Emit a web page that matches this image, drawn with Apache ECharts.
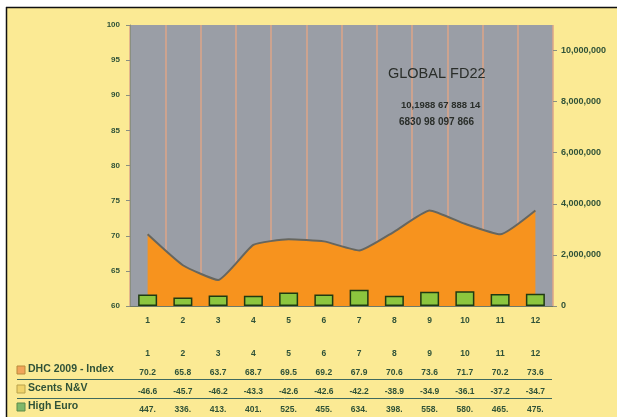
<!DOCTYPE html>
<html>
<head>
<meta charset="utf-8">
<script src="https://cdn.jsdelivr.net/npm/echarts@6/dist/echarts.min.js"></script>
<style>
  html, body { margin: 0; padding: 0; }
  #chart { width: 617px; height: 417px; }
</style>
</head>
<body>
<div id="chart"></div>
<script>
// 数据
var months = ['1', '2', '3', '4', '5', '6', '7', '8', '9', '10', '11', '12'];
var dhcIndex = [70.2, 65.8, 63.7, 68.7, 69.5, 69.2, 67.9, 70.6, 73.6, 71.7, 70.2, 73.6];
var scentsNV = ['-46.6', '-45.7', '-46.2', '-43.3', '-42.6', '-42.6', '-42.2', '-38.9', '-34.9', '-36.1', '-37.2', '-34.7'];
var highEuro = [447, 336, 413, 401, 525, 455, 634, 398, 558, 580, 465, 475];
var leftTicks = [60, 100, 5];
var rightTicks = [0, 11000000, 2000000];

var ink = '#2f5238';

function drawChart(ElementId) {
    var myChart = echarts.init(document.getElementById(ElementId));

    function tableAxis(offset, formatter) {
        return {
            type: 'category',
            gridIndex: 0,
            position: 'bottom',
            offset: offset,
            data: months,
            axisLine: { show: false },
            axisTick: { show: false },
            splitLine: { show: false },
            axisLabel: {
                color: ink,
                fontSize: 8.5,
                fontWeight: 'bold',
                fontFamily: 'Liberation Sans',
                formatter: formatter
            }
        };
    }

    var option = {
        backgroundColor: '#fbea94',
        animation: false,
        grid: {
            left: 130, right: 64, top: 25, bottom: 111,
            show: true,
            backgroundColor: '#9a9ea6',
            borderWidth: 0
        },
        xAxis: [
            {
                type: 'category',
                data: months,
                axisLine: { show: true, lineStyle: { color: '#6d7a6a', width: 1 } },
                axisTick: { show: false },
                splitLine: { show: true, lineStyle: { color: '#dca487', width: 1.5 } },
                axisLabel: { color: ink, fontSize: 8.5, fontWeight: 'bold', fontFamily: 'Liberation Sans', margin: 10 }
            },
            tableAxis(35, function (v) { return v; }),
            tableAxis(54, function (v, i) { return dhcIndex[i].toFixed(1); }),
            tableAxis(73, function (v, i) { return scentsNV[i]; }),
            tableAxis(91, function (v, i) { return highEuro[i] + '.'; })
        ],
        yAxis: [
            {
                type: 'value',
                min: leftTicks[0], max: leftTicks[1], interval: leftTicks[2],
                axisLine: { show: true, lineStyle: { color: '#8a8f80' } },
                axisTick: { show: true, length: 4, lineStyle: { color: '#8a8f80' } },
                splitLine: { show: false },
                axisLabel: {
                    color: ink, fontSize: 8, fontWeight: 'bold', fontFamily: 'Liberation Sans', margin: 10
                }
            },
            {
                type: 'value',
                position: 'right',
                min: rightTicks[0], max: rightTicks[1], interval: rightTicks[2],
                axisLine: { show: false },
                axisTick: { show: true, length: 4, lineStyle: { color: '#8a8f80' } },
                splitLine: { show: false },
                axisLabel: {
                    color: ink, fontSize: 9, fontWeight: 'bold', fontFamily: 'Liberation Sans', margin: 8,
                    showMaxLabel: false,
                    formatter: function (v) { return v.toLocaleString('en-US'); }
                }
            }
        ],
        series: [
            {
                name: 'DHC 2009 - Index',
                type: 'line',
                yAxisIndex: 0,
                data: dhcIndex,
                smooth: 0.15,
                symbol: 'none',
                lineStyle: { color: '#66665f', width: 2 },
                areaStyle: { color: '#f7931e', opacity: 1 },
                z: 2
            },
            {
                name: 'High Euro',
                type: 'bar',
                yAxisIndex: 1,
                data: highEuro.map(function (v) { return v * 1000; }),
                barWidth: 19,
                itemStyle: { color: '#8cc63e', borderColor: '#1f3a12', borderWidth: 1.5 },
                z: 3
            }
        ],
        graphic: [
            { type: 'rect', shape: { x: 0, y: 0, width: 617, height: 7 }, style: { fill: '#ffffff' } },
            { type: 'rect', shape: { x: 0, y: 0, width: 6, height: 417 }, style: { fill: '#ffffff' } },
            { type: 'line', shape: { x1: 6, y1: 7.5, x2: 617, y2: 7.5 }, style: { stroke: '#111', lineWidth: 1.5 } },
            { type: 'line', shape: { x1: 6.5, y1: 7, x2: 6.5, y2: 417 }, style: { stroke: '#111', lineWidth: 1.5 } },
            { type: 'text', left: 388, top: 66, z: 10,
              style: { text: 'GLOBAL FD22', fill: '#2a2e2a', font: '14.5px "Liberation Sans"' } },
            { type: 'text', left: 401, top: 100, z: 10,
              style: { text: '10,1988 67 888 14', fill: '#2a2e2a', font: 'bold 9.5px "Liberation Sans"' } },
            { type: 'text', left: 399, top: 117, z: 10,
              style: { text: '6830 98 097 866', fill: '#2a2e2a', font: 'bold 10px "Liberation Sans"' } },
            // 表格行名
            { type: 'rect', shape: { x: 17, y: 366, width: 8, height: 8 }, style: { fill: '#f2a55a', stroke: '#b98a3a' } },
            { type: 'text', left: 28, top: 364, style: { text: 'DHC 2009 - Index', fill: ink, font: 'bold 10.5px "Liberation Sans"' } },
            { type: 'rect', shape: { x: 17, y: 385, width: 8, height: 8 }, style: { fill: '#f0d36a', stroke: '#b9a24a' } },
            { type: 'text', left: 28, top: 383, style: { text: 'Scents N&V', fill: ink, font: 'bold 10.5px "Liberation Sans"' } },
            { type: 'rect', shape: { x: 17, y: 403, width: 8, height: 8 }, style: { fill: '#7fb86a', stroke: '#5d8a4a' } },
            { type: 'text', left: 28, top: 401, style: { text: 'High Euro', fill: ink, font: 'bold 10.5px "Liberation Sans"' } },
            { type: 'line', shape: { x1: 17, y1: 379.5, x2: 552, y2: 379.5 }, style: { stroke: '#3f6a5e', lineWidth: 1 } },
            { type: 'line', shape: { x1: 17, y1: 398.5, x2: 552, y2: 398.5 }, style: { stroke: '#3f6a5e', lineWidth: 1 } }
        ]
    };
    myChart.setOption(option);
}

drawChart('chart');
</script>
</body>
</html>
